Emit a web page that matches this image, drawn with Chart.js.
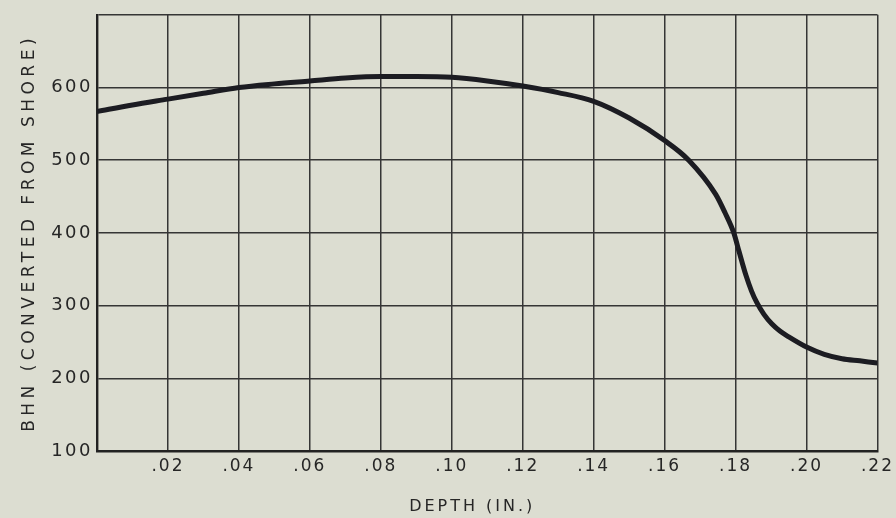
<!DOCTYPE html>
<html><head><meta charset="utf-8">
<script src="https://cdn.jsdelivr.net/npm/chart.js@4"></script>
<style>html,body{margin:0;padding:0;background:#dcddd1;overflow:hidden}#wrap{width:896px;height:518px}</style>
</head><body><div id="wrap"><canvas id="c" width="896" height="518"></canvas></div>
<script>
const depth = [0, .01, .02, .03, .04, .05, .06, .07, .08, .09, .10, .11, .12, .13, .14, .15, .16, .1668, .1744, .177, .1795, .181, .1829, .1845, .186, .188, .1902, .1925, .195, .20, .205, .21, .215, .22];
const bhn   = [567, 576, 584, 592, 600, 605, 609, 613, 615, 615, 614, 609, 602, 593, 581, 558, 527, 500, 453, 428, 400, 374, 342, 320, 304, 288, 275, 265, 257, 243, 233, 227, 224, 221];
const xTickLabels = ['', '.02', '.04', '.06', '.08', '.10', '.12', '.14', '.16', '.18', '.20', '.22'];
const yTickLabels = ['100', '200', '300', '400', '500', '600', ''];
const xTitle = 'DEPTH (IN.)';
const yTitle = 'BHN (CONVERTED FROM SHORE)';

const ink = '#262626';
const gridCol = '#353535';
const fontFam = '"DejaVu Sans", sans-serif';

const spacingPlugin = {
  id: 'spacing',
  beforeDraw(chart) {
    Object.values(chart.scales).forEach(s => {
      if (s._spPatched) return;
      s._spPatched = true;
      const dt = s.drawTitle, dl = s.drawLabels;
      s.drawTitle = function(...a) {
        const ctx = this.ctx, o = ctx.letterSpacing;
        ctx.save();
        if (this.axis === 'y') {
          ctx.letterSpacing = '4.5px';
        } else {
          ctx.letterSpacing = '3px';
          ctx.translate(-15, 0);
        }
        dt.apply(this, a);
        ctx.restore();
        ctx.letterSpacing = o;
      };
      s.drawLabels = function(...a) {
        const ctx = this.ctx, o = ctx.letterSpacing;
        ctx.letterSpacing = this.axis === 'y' ? '2.5px' : '2px';
        dl.apply(this, a);
        ctx.letterSpacing = o;
      };
    });
  }
};

new Chart(document.getElementById('c'), {
  type: 'line',
  data: {
    datasets: [{
      data: depth.map((d, i) => ({x: d, y: bhn[i]})),
      borderColor: '#1c1c22',
      borderWidth: 5,
      pointRadius: 0,
      fill: false,
      cubicInterpolationMode: 'monotone'
    }]
  },
  options: {
    responsive: false,
    animation: false,
    devicePixelRatio: 1,
    layout: {padding: {top: 12, right: 17, left: 0, bottom: 0}},
    plugins: {legend: {display: false}, tooltip: {enabled: false}},
    scales: {
      x: {
        type: 'linear', min: 0, max: 0.22,
        afterFit(s) { s.height = 67; },
        ticks: {
          stepSize: 0.02, autoSkip: false, maxRotation: 0, padding: 5, color: ink,
          font: {family: fontFam, size: 17},
          callback: (v, i) => xTickLabels[i]
        },
        grid: {color: gridCol, lineWidth: 1.5, drawTicks: false},
        border: {color: '#222', width: 2.4},
        title: {display: true, text: xTitle, color: ink, font: {family: fontFam, size: 16}, padding: {top: 0, bottom: 2}}
      },
      y: {
        min: 100, max: 700,
        afterFit(s) { s.width = 97; },
        ticks: {
          stepSize: 100, padding: 4, color: ink,
          font: {family: fontFam, size: 18},
          callback: (v, i) => yTickLabels[i]
        },
        grid: {color: gridCol, lineWidth: 1.5, drawTicks: false},
        border: {color: '#222', width: 2.4},
        title: {display: true, text: yTitle, color: ink, font: {family: fontFam, size: 17}, padding: {top: 19, bottom: 0}}
      }
    }
  },
  plugins: [spacingPlugin]
});
</script>
</body></html>
